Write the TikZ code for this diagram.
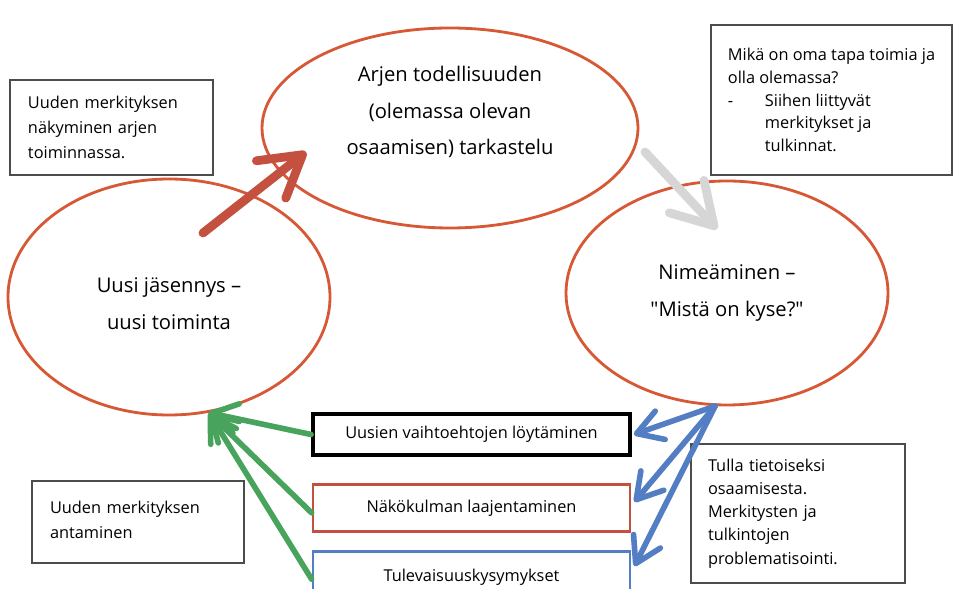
\documentclass[tikz,border=0pt]{standalone}
\usepackage{fontspec}
\setmainfont{Open Sans}
\usetikzlibrary{shapes.geometric,arrows.meta,positioning}

\definecolor{oranssi}{RGB}{214,88,52}
\definecolor{punainen}{RGB}{196,80,64}
\definecolor{harmaa}{RGB}{214,214,214}
\definecolor{sininen}{RGB}{84,126,196}
\definecolor{vihrea}{RGB}{72,164,92}

\tikzset{
  kehae/.style={ellipse, draw=oranssi, line width=1.6pt, inner sep=0pt},
  kehateksti/.style={align=center, inner sep=0pt, font=\fontsize{11.5}{21}\selectfont},
  laatikko/.style={draw=black!70, line width=0.9pt, align=left,
    inner ysep=0pt, font=\fontsize{9.3}{14}\selectfont},
  vaihe/.style={draw, line width=1.6pt, minimum width=6.34cm,
    font=\fontsize{9.3}{12}\selectfont},
  isonuoli/.style={line width=5pt, line cap=round,
    -{Straight Barb[round, length=0.8cm, width=0.95cm]}},
  nuoli/.style={line width=3.2pt, line cap=round,
    -{Straight Barb[round, length=0.5cm, width=0.6cm]}},
}

\begin{document}
\begin{tikzpicture}
  \clip (0,0) rectangle (19.28,11.78);

  % kehän vaiheet:
  \node[kehae, minimum width=7.52cm, minimum height=4.0cm] (arki) at (9.0,9.22) {};
  \node[kehateksti] (arkiteksti) at ([yshift=0.32cm]arki.center)
    {Arjen todellisuuden\\(olemassa olevan\\osaamisen) tarkastelu};
  \node[kehae, minimum width=6.44cm, minimum height=4.72cm] (uusi) at (3.38,5.84) {};
  \node[kehateksti] (uusiteksti) at ([yshift=-0.14cm]uusi.center)
    {Uusi jäsennys –\\uusi toiminta};
  \node[kehae, minimum width=6.44cm, minimum height=4.48cm] (nimi) at (14.54,5.92) {};
  \node[kehateksti] (nimiteksti) at (nimi.center)
    {Nimeäminen –\\\textquotedbl Mistä on kyse?\textquotedbl};

  % selitelaatikot:
  \node[laatikko, text width=3.34cm, inner xsep=0.36cm, minimum height=1.9cm] (selite1) at (2.23,9.23)
    {Uuden merkityksen\\näkyminen arjen\\toiminnassa.};
  \node[laatikko, inner xsep=0.3cm, minimum width=4.82cm, minimum height=3.0cm,
    font=\fontsize{9.3}{13}\selectfont] (selite2) at (16.63,9.78)
    {Mikä on oma tapa toimia ja\\olla olemassa?\\
     \makebox[0.74cm][l]{-}Siihen liittyvät\\
     \hspace*{0.74cm}merkitykset ja\\
     \hspace*{0.74cm}tulkinnat.};
  \node[laatikko, text width=3.52cm, inner xsep=0.36cm, minimum height=1.64cm] (selite3) at (2.76,1.34)
    {Uuden merkityksen\\antaminen\vphantom{g}\\[-0.24cm]};
  \node[laatikko, text width=3.6cm, inner xsep=0.34cm, minimum height=2.78cm,
    font=\fontsize{9.3}{13.2}\selectfont] (selite4) at (15.96,1.51)
    {Tulla tietoiseksi\\osaamisesta.\\Merkitysten ja\\tulkintojen\\problematisointi.};

  % keinot:
  \node[vaihe, draw=black, line width=2.2pt, minimum height=0.82cm] (eka) at (9.43,3.09)
    {Uusien vaihtoehtojen löytäminen};
  \node[vaihe, draw=punainen, minimum height=0.94cm, below=0.52cm of eka] (toka)
    {Näkökulman laajentaminen};
  \node[vaihe, draw=sininen, minimum height=1.04cm, below=0.34cm of toka] (kolmas)
    {Tulevaisuuskysymykset};

  % kehän nuolet:
  \coordinate (punaalku) at (4.06,7.12);
  \coordinate (punakarki) at (6.12,8.74);
  \coordinate (harmaaalku) at (12.9,8.74);
  \coordinate (harmaakarki) at (14.34,7.2);
  \draw[isonuoli, punainen] (punaalku) -- (punakarki);
  \draw[isonuoli, harmaa] (harmaaalku) -- (harmaakarki);

  % sinisiä:
  \draw[nuoli, sininen] (nimi.-96) -- ([xshift=0.04cm]eka.east);
  \draw[nuoli, sininen] (nimi.-96) -- ([xshift=0.06cm, yshift=0.12cm]toka.east);
  \draw[nuoli, sininen] (nimi.-96) -- ([xshift=0.06cm, yshift=0.22cm]kolmas.east);

  % vihreitä:
  \draw[nuoli, vihrea] (eka.west) -- (uusi.-71);
  \draw[nuoli, vihrea] ([yshift=-0.1cm]toka.west) -- (uusi.-71);
  \draw[nuoli, vihrea] ([yshift=-0.04cm]kolmas.west) -- (uusi.-71);
\end{tikzpicture}
\end{document}
